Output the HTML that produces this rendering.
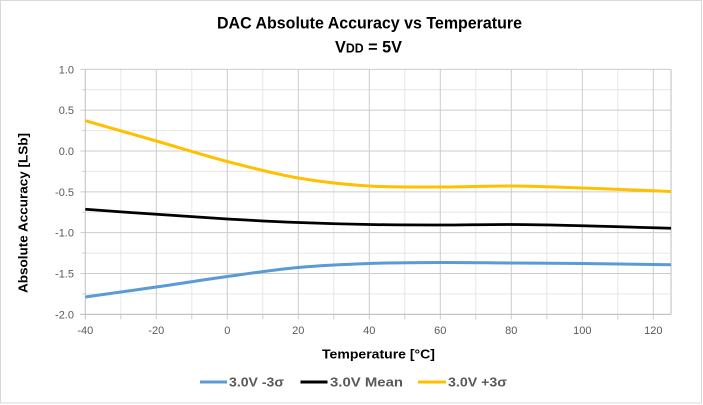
<!DOCTYPE html>
<html><head><meta charset="utf-8"><style>
html,body{margin:0;padding:0;background:#fff;}
svg{display:block;}
text{font-family:"Liberation Sans",sans-serif;}
</style></head><body>
<svg id="c" width="703" height="405" viewBox="0 0 703 405" xmlns="http://www.w3.org/2000/svg">
<rect x="0.5" y="0.5" width="701" height="402.5" fill="#fff" stroke="#d9d9d9" stroke-width="1"/>
<g id="grid"></g>
<text x="369.5" y="28.5" font-size="16.5" font-weight="bold" text-anchor="middle" textLength="305" lengthAdjust="spacingAndGlyphs" fill="#000">DAC Absolute Accuracy vs Temperature</text>
<text x="368.5" y="52.5" font-size="16.5" font-weight="bold" text-anchor="middle" textLength="67" lengthAdjust="spacingAndGlyphs" fill="#000">V<tspan font-size="12.5">DD</tspan> = 5V</text>
<text transform="translate(27.5,213) rotate(-90)" font-size="13" font-weight="bold" text-anchor="middle" textLength="160" lengthAdjust="spacingAndGlyphs" fill="#000">Absolute Accuracy [LSb]</text>
<text x="378.5" y="358.5" font-size="13" font-weight="bold" text-anchor="middle" textLength="113" lengthAdjust="spacingAndGlyphs" fill="#000">Temperature [°C]</text>
<g id="series"></g>
<g font-size="12.5" font-weight="bold" fill="#595959">
<line x1="200" y1="382" x2="227" y2="382" stroke="#5b9bd5" stroke-width="3"/>
<text x="229" y="386.5" textLength="55" lengthAdjust="spacingAndGlyphs">3.0V -3σ</text>
<line x1="300.5" y1="382" x2="327.5" y2="382" stroke="#000" stroke-width="3"/>
<text x="330" y="386.5" textLength="73" lengthAdjust="spacingAndGlyphs">3.0V Mean</text>
<line x1="418" y1="382" x2="446" y2="382" stroke="#ffc000" stroke-width="3"/>
<text x="448" y="386.5" textLength="59" lengthAdjust="spacingAndGlyphs">3.0V +3σ</text>
</g>
</svg>
<script>
(function(){
var NS="http://www.w3.org/2000/svg";
function X(t){return 85.3+(t+40)*3.55;}
function Y(v){return 151-v*81.67;}
var g=document.getElementById("grid");
function line(x1,y1,x2,y2,c,w){var l=document.createElementNS(NS,"line");l.setAttribute("x1",x1);l.setAttribute("y1",y1);l.setAttribute("x2",x2);l.setAttribute("y2",y2);l.setAttribute("stroke",c);l.setAttribute("stroke-width",w||1);g.appendChild(l);}
function txt(x,y,s,anchor){var t=document.createElementNS(NS,"text");t.setAttribute("x",x);t.setAttribute("y",y);t.setAttribute("font-size","11");t.setAttribute("fill","#595959");t.setAttribute("text-anchor",anchor);t.textContent=s;g.appendChild(t);}
var L=X(-40),R=X(125),T=Y(1),B=Y(-2);
// minor grid
for(var t=-30;t<=120;t+=20){line(X(t),T,X(t),B,"#e6e6e6");}
for(var v=0.75;v>-2;v-=0.5){line(L,Y(v),R,Y(v),"#e6e6e6");}
// major grid
for(var t=-20;t<=120;t+=20){line(X(t),T,X(t),B+5,"#cccccc");}
for(var v=1;v>-2.01;v-=0.5){line(L-5,Y(v),R,Y(v),"#cccccc");}
line(L,T,L,B+5,"#bfbfbf");
line(R,T,R,B,"#bfbfbf");
line(L-5,B,R,B,"#bfbfbf");
for(var t=-30;t<=120;t+=20){line(X(t),B,X(t),B+5,"#cccccc");}
for(var v=0.75;v>-2;v-=0.5){line(L-3,Y(v),L,Y(v),"#cccccc");}
// labels
var yl=["1.0","0.5","0.0","-0.5","-1.0","-1.5","-2.0"];
for(var i=0;i<7;i++){txt(74,Y(1-i*0.5)+4,yl[i],"end");}
for(var t=-40;t<=120;t+=20){txt(X(t),334,String(t),"middle");}
// series
var s=document.getElementById("series");
function path(pts,c,w){
  var d="M"+pts[0][0]+","+pts[0][1];
  for(var i=0;i<pts.length-1;i++){
    var p0=pts[i>0?i-1:0],p1=pts[i],p2=pts[i+1],p3=pts[i+2<pts.length?i+2:i+1];
    var c1x=p1[0]+(p2[0]-p0[0])/6,c1y=p1[1]+(p2[1]-p0[1])/6;
    var c2x=p2[0]-(p3[0]-p1[0])/6,c2y=p2[1]-(p3[1]-p1[1])/6;
    d+=" C"+c1x.toFixed(2)+","+c1y.toFixed(2)+" "+c2x.toFixed(2)+","+c2y.toFixed(2)+" "+p2[0].toFixed(2)+","+p2[1].toFixed(2);
  }
  var p=document.createElementNS(NS,"path");p.setAttribute("d",d);p.setAttribute("fill","none");p.setAttribute("stroke",c);p.setAttribute("stroke-width",w);p.setAttribute("stroke-linecap","butt");p.setAttribute("stroke-linejoin","round");s.appendChild(p);
}
var xs=[X(-40),X(-20),X(0),X(20),X(40),X(60),X(80),X(100),X(125)];
function mk(ys){return xs.map(function(x,i){return [x,ys[i]];});}
path(mk([297,287,276.5,267.5,263.5,262.5,263,263.5,264.7]),"#5b9bd5",3);
path(mk([209.3,214.3,219,222.5,224.5,225,224.5,225.7,228.3]),"#000",2.75);
path(mk([120.7,141,161.5,178,186,187,186,188,191.5]),"#ffc000",3);
})();
</script>
</body></html>
